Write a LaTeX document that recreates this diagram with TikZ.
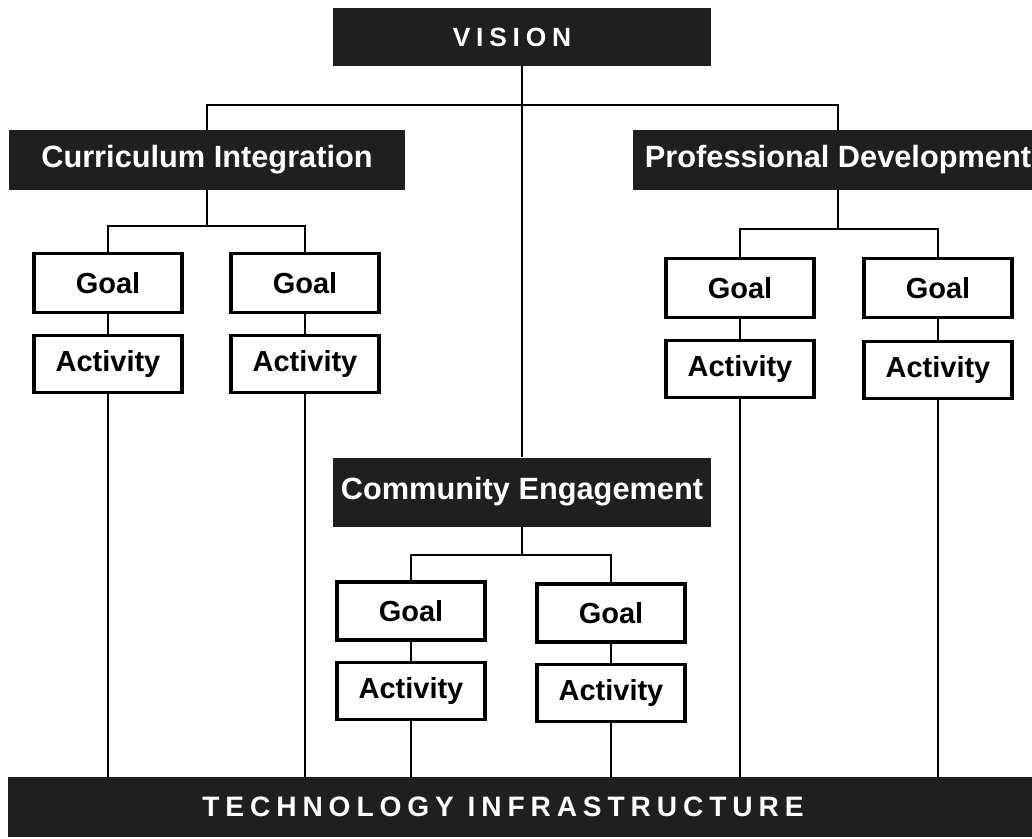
\documentclass[tikz,border=0pt]{standalone}
\usepackage{fontspec}
\setmainfont{Liberation Sans}
\newfontfamily\widefont[LetterSpace=22]{Liberation Sans}
\newfontfamily\widerfont[LetterSpace=21]{Liberation Sans}

\tikzset{
  darkbox/.style={fill=black!88,text=white,inner sep=0pt,%
    font=\bfseries\fontsize{17.5}{20}\selectfont},
  planbox/.style={draw,line width=1.9pt,inner sep=0pt,minimum width=2.96cm,%
    font=\bfseries\fontsize{16.5}{19}\selectfont},
  link/.style={line width=1.6pt}
}

\begin{document}
\begin{tikzpicture}[x=0.02cm,y=-0.02cm]
      % 用紙の大きさ
      \useasboundingbox (0,0) rectangle (1032,839);

      % 黒い帯
      \node[darkbox,minimum width=7.56cm,minimum height=1.16cm] (vision) at (522,37){%
        {\widefont\fontsize{15}{18}\selectfont VISION}\hspace*{0.4cm}};
      \node[darkbox,minimum width=7.94cm,minimum height=1.2cm] (curric) at (207,160){%
        Curriculum Integration};
      \node[darkbox,minimum width=8.2cm,minimum height=1.2cm] (prof) at (838,160){%
        Professional Development};
      \node[darkbox,minimum width=7.56cm,minimum height=1.38cm] (comm) at (522,492){%
        Community Engagement};
      \node[darkbox,minimum width=20.64cm,minimum height=1.2cm] (infra) at (524,807){%
        {\widerfont\fontsize{16}{18}\selectfont TECHNOLOGY INFRASTRUCTURE}\hspace*{0.84cm}};

      % Goal / Activity
      \node[planbox,minimum height=1.18cm] (goalA) at (108,283){Goal};
      \node[planbox,minimum height=1.14cm] (actA) at (108,364){Activity};
      \node[planbox,minimum height=1.18cm] (goalB) at (305,283){Goal};
      \node[planbox,minimum height=1.14cm] (actB) at (305,364){Activity};
      \node[planbox,minimum height=1.18cm] (goalC) at (740,288){Goal};
      \node[planbox,minimum height=1.14cm] (actC) at (740,369){Activity};
      \node[planbox,minimum height=1.18cm] (goalD) at (938,288){Goal};
      \node[planbox,minimum height=1.14cm] (actD) at (938,370){Activity};
      \node[planbox,minimum height=1.16cm] (goalE) at (411,611){Goal};
      \node[planbox,minimum height=1.14cm] (actE) at (411,691){Activity};
      \node[planbox,minimum height=1.16cm] (goalF) at (611,613){Goal};
      \node[planbox,minimum height=1.14cm] (actF) at (611,693){Activity};

      % 分岐点
      \coordinate (topjoin) at (522,105);
      \coordinate (leftjoin) at (207,226);
      \coordinate (rightjoin) at (838,229);
      \coordinate (midjoin) at (522,555);

      % 線
      \draw[link] (vision) -- (comm);
      \draw[link] (curric.north) |- (topjoin) -| (prof.north);
      \draw[link] (curric) -- (leftjoin);
      \draw[link] (goalA.north) |- (leftjoin) -| (goalB.north);
      \draw[link] (prof) -- (rightjoin);
      \draw[link] (goalC.north) |- (rightjoin) -| (goalD.north);
      \draw[link] (comm) -- (midjoin);
      \draw[link] (goalE.north) |- (midjoin) -| (goalF.north);
      \foreach \g/\a in {goalA/actA,goalB/actB,goalC/actC,goalD/actD,goalE/actE,goalF/actF}{
        \draw[link] (\g) -- (\a);
        \draw[link] (\a) -- (\a |- infra.north);
      }
    \end{tikzpicture}
\end{document}
